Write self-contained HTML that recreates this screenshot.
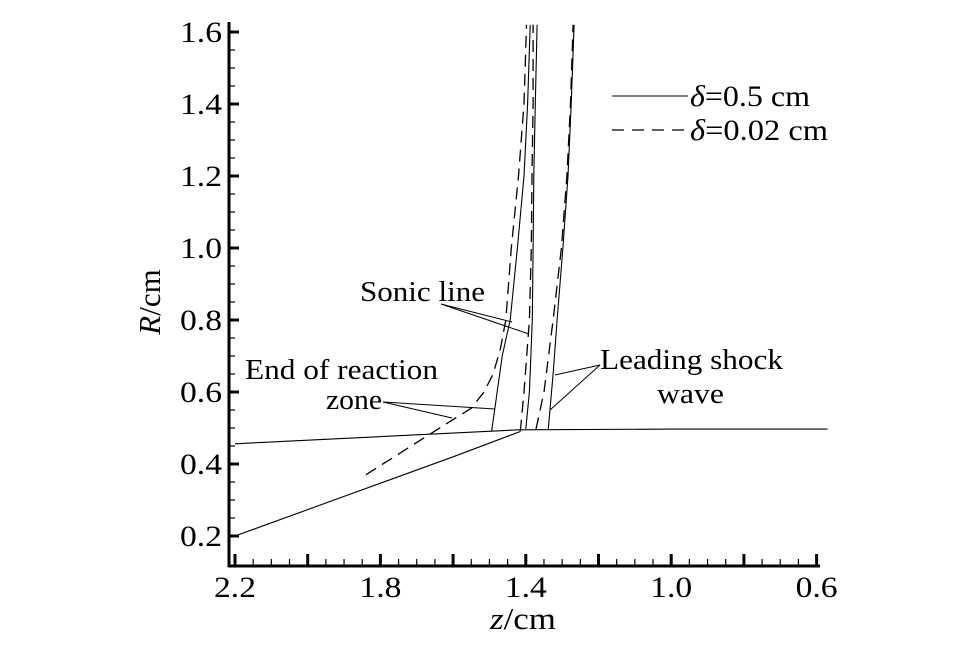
<!DOCTYPE html>
<html><head><meta charset="utf-8"><style>
body{margin:0;background:#fff}
svg{display:block;font-family:"Liberation Serif",serif}
</style></head><body>
<svg id="chart" width="963" height="651" viewBox="0 0 963 651">
<g id="marks"></g>
<g stroke="#000" stroke-width="1" fill="none">
<line x1="441" y1="304" x2="512" y2="322"/><line x1="441" y1="304" x2="529" y2="334"/>
<line x1="383" y1="402" x2="495" y2="409"/><line x1="383" y1="402" x2="452" y2="418"/>
<line x1="600" y1="365" x2="555" y2="375"/><line x1="600" y1="365" x2="550" y2="410"/>
</g>
<g font-size="29" fill="#000">
<text x="360" y="301" textLength="125" lengthAdjust="spacingAndGlyphs">Sonic line</text>
<text x="245" y="379" textLength="193" lengthAdjust="spacingAndGlyphs">End of reaction</text>
<text x="326" y="409" textLength="56" lengthAdjust="spacingAndGlyphs">zone</text>
<text x="600" y="369" textLength="183" lengthAdjust="spacingAndGlyphs">Leading shock</text>
<text x="657" y="403" textLength="67" lengthAdjust="spacingAndGlyphs">wave</text>
</g>
<g>
<line x1="612" y1="96" x2="688" y2="96" stroke="#000" stroke-width="1"/>
<text x="690" y="106" font-size="30" textLength="120" lengthAdjust="spacingAndGlyphs"><tspan font-style="italic">δ</tspan>=0.5 cm</text>
<line x1="612" y1="130" x2="688" y2="130" stroke="#000" stroke-width="1.2" stroke-dasharray="12,8"/>
<text x="690" y="140" font-size="30" textLength="138" lengthAdjust="spacingAndGlyphs"><tspan font-style="italic">δ</tspan>=0.02 cm</text>
</g>
<text x="490" y="629" font-size="31" textLength="66" lengthAdjust="spacingAndGlyphs"><tspan font-style="italic">z</tspan>/cm</text>
<text transform="translate(160,302) rotate(-90)" text-anchor="middle" font-size="31"><tspan font-style="italic">R</tspan>/cm</text>
</svg>
<script>
const xTicks=[2.2,1.8,1.4,1.0,0.6];
const yTicks=[0.2,0.4,0.6,0.8,1.0,1.2,1.4,1.6];
const wallZ=[2.2,1.42,1.0,0.57];
const wallR=[0.456,0.495,0.497,0.497];
const nozzleZ=[2.2,1.9,1.6,1.416];
const nozzleR=[0.2,0.31,0.42,0.49];
const endSolidZ=[1.494,1.465,1.443,1.423,1.405,1.395,1.388];
const endSolidR=[0.49,0.7,0.8,1.0,1.2,1.4,1.62];
const endDashZ=[1.84,1.70,1.55,1.515,1.49,1.47,1.455,1.44,1.42,1.405,1.398];
const endDashR=[0.37,0.46,0.555,0.60,0.65,0.72,0.8,1.0,1.2,1.4,1.62];
const sonicSolidZ=[1.40,1.39,1.382,1.38,1.378,1.374,1.369];
const sonicSolidR=[0.497,0.6,0.8,1.0,1.2,1.4,1.62];
const sonicDashZ=[1.415,1.405,1.39,1.385,1.383,1.38,1.38];
const sonicDashR=[0.49,0.6,0.8,1.0,1.2,1.4,1.62];
const shockSolidZ=[1.338,1.325,1.314,1.298,1.284,1.275,1.267];
const shockSolidR=[0.497,0.65,0.8,1.0,1.2,1.4,1.62];
const shockDashZ=[1.372,1.35,1.325,1.302,1.287,1.277,1.27];
const shockDashR=[0.497,0.6,0.8,1.0,1.2,1.4,1.62];

const X=z=>235+(2.2-z)*363.5;
const Y=r=>536-(r-0.2)*360;
const NS="http://www.w3.org/2000/svg";
const g=document.getElementById('marks');
function mk(t,a){const e=document.createElementNS(NS,t);for(const k in a)e.setAttribute(k,a[k]);g.appendChild(e);return e;}
function line(zs,rs,name,dash){
  const e=mk('polyline',{points:zs.map((z,i)=>X(z).toFixed(1)+','+Y(rs[i]).toFixed(1)).join(' '),fill:'none',stroke:'#000','stroke-width':dash?1.3:1.1,'stroke-dasharray':dash?'12,7':'none'});
  
  
}
line(wallZ,wallR,'wall-line',false);
line(nozzleZ,nozzleR,'nozzle-line',false);
line(endSolidZ,endSolidR,'end-reaction-solid',false);
line(endDashZ,endDashR,'end-reaction-dashed',true);
line(sonicSolidZ,sonicSolidR,'sonic-line-solid',false);
line(sonicDashZ,sonicDashR,'sonic-line-dashed',true);
line(shockSolidZ,shockSolidR,'shock-solid',false);
line(shockDashZ,shockDashR,'shock-dashed',true);
const ax=mk('line',{x1:229,y1:22,x2:229,y2:567,stroke:'#000','stroke-width':3});


const bx=mk('line',{x1:228,y1:566,x2:820,y2:566,stroke:'#000','stroke-width':3});


for(let v=0.2;v<=1.6001;v+=0.05){const y=Y(v);const maj=Math.abs(v*5-Math.round(v*5))<1e-6;
  mk('line',{x1:229,y1:y,x2:229+(maj?10:6),y2:y,stroke:'#000','stroke-width':maj?3:1.2});}
for(let v=0.6;v<=2.2001;v+=0.05){const x=X(v);const maj=Math.abs(v*5-Math.round(v*5))<1e-6;
  mk('line',{x1:x,y1:566,x2:x,y2:566-(maj?12:7),stroke:'#000','stroke-width':maj?3:1.2});}
yTicks.forEach(v=>{const t=mk('text',{x:222,y:Y(v)+10,'text-anchor':'end','font-size':30,textLength:42,lengthAdjust:'spacingAndGlyphs'});t.textContent=v.toFixed(1);
  
  });
xTicks.forEach(v=>{const t=mk('text',{x:X(v)-21,y:597,'font-size':30,textLength:42,lengthAdjust:'spacingAndGlyphs'});t.textContent=v.toFixed(1);
  
  });
</script>
</body></html>
